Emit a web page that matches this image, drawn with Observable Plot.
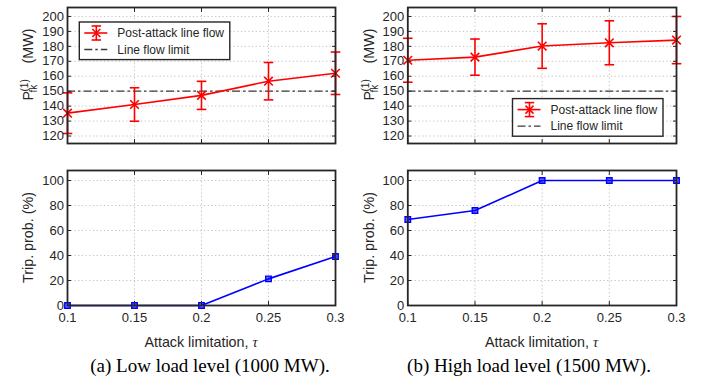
<!DOCTYPE html>
<html><head><meta charset="utf-8">
<script src="https://cdn.jsdelivr.net/npm/d3@7"></script>
<script src="https://cdn.jsdelivr.net/npm/@observablehq/plot@0.6"></script>
<style>
html,body{margin:0;padding:0;background:#fff;}
#root{position:relative;width:708px;height:383px;overflow:hidden;background:#fff;}
#root > svg{position:absolute;}
</style></head><body><div id="root"></div>
<script>
// ---- data ----
const tau = [0.1, 0.15, 0.2, 0.25, 0.3];
const tauLabels = ["0.1", "0.15", "0.2", "0.25", "0.3"];
const flowTicks = [120, 130, 140, 150, 160, 170, 180, 190, 200];
const tripTicks = [0, 20, 40, 60, 80, 100];
const lineFlowLimit = 150;
const lowFlow = [135.3, 141.1, 147.2, 156.7, 162.0];
const lowErr = [13.6, 11.2, 9.4, 12.5, 14.2];
const highFlow = [170.7, 172.8, 180.2, 182.4, 184.2];
const highErr = [14.7, 12.1, 14.9, 14.7, 15.8];
const lowTrip = [0, 0, 0, 21.3, 39.2];
const highTrip = [68.8, 76.0, 100, 100, 100];
const seriesNames = ["Post-attack line flow", "Line flow limit"];
const yLabelTrip = "Trip. prob. (%)";
const xLabel = "Attack limitation, ";
const captions = ["(a) Low load level (1000 MW).", "(b) High load level (1500 MW)."];

// ---- style ----
const FONT = "'Liberation Sans', Arial, Helvetica, sans-serif";
const AX = "#262626", GRID = "#c4c4c4", RED = "#ff0000", BLUE = "#0000ff", LIMIT = "#3a3a3a";

const cap = {draw(ctx, size) { const r = Math.sqrt(size / Math.PI); ctx.moveTo(-r, 0); ctx.lineTo(r, 0); }};
const cross = {draw(ctx, size) { const r = Math.sqrt(size / Math.PI); ctx.moveTo(-r, -r); ctx.lineTo(r, r); ctx.moveTo(-r, r); ctx.lineTo(r, -r); }};

const root = document.getElementById("root");

function panel({left, top, width, height, ml, mr, mt, mb, yDomain, yTicks, xLabels, marks}) {
  const el = Plot.plot({
    width, height, marginLeft: ml, marginRight: mr, marginTop: mt, marginBottom: mb,
    style: {fontFamily: FONT, fontSize: "13px", color: AX, background: "transparent", overflow: "visible"},
    x: {domain: [0.1, 0.3]},
    y: {domain: yDomain},
    marks: [
      Plot.gridX(tau, {stroke: GRID, strokeOpacity: 1, strokeDasharray: "1.3,2.4", strokeWidth: 1}),
      Plot.gridY(yTicks, {stroke: GRID, strokeOpacity: 1, strokeDasharray: "1.3,2.4", strokeWidth: 1}),
      ...marks,
      Plot.axisX(tau, {anchor: "bottom", tickSize: -4, tickPadding: 11.5, strokeWidth: 1,
        tickFormat: xLabels ? (d => tauLabels[tau.indexOf(d)]) : (() => ""), label: null, fontSize: 13}),
      Plot.axisX(tau, {anchor: "top", tickSize: -4, strokeWidth: 1, tickFormat: () => "", label: null}),
      Plot.axisY(yTicks, {anchor: "left", tickSize: -4, tickPadding: 7.5, strokeWidth: 1,
        tickFormat: d => String(d), label: null, fontSize: 13}),
      Plot.axisY(yTicks, {anchor: "right", tickSize: -4, strokeWidth: 1, tickFormat: () => "", label: null}),
      Plot.frame({stroke: AX, strokeWidth: 1.8})
    ]
  });
  el.style.left = left + "px";
  el.style.top = top + "px";
  root.appendChild(el);
}

function flowMarks(vals, errs) {
  const rows = tau.map((t, i) => ({t, v: vals[i], lo: vals[i] - errs[i], hi: vals[i] + errs[i]}));
  return [
    Plot.ruleY([lineFlowLimit], {stroke: LIMIT, strokeWidth: 1.3, strokeDasharray: "8,3,2.5,3"}),
    Plot.line(rows, {x: "t", y: "v", stroke: RED, strokeWidth: 1.6}),
    Plot.ruleX(rows, {x: "t", y1: "lo", y2: "hi", stroke: RED, strokeWidth: 1.6}),
    Plot.dot(rows, {x: "t", y: "lo", symbol: cap, r: 4.8, stroke: RED, fill: "none", strokeWidth: 1.6}),
    Plot.dot(rows, {x: "t", y: "hi", symbol: cap, r: 4.8, stroke: RED, fill: "none", strokeWidth: 1.6}),
    Plot.dot(rows, {x: "t", y: "v", symbol: cross, r: 4.3, stroke: RED, fill: "none", strokeWidth: 1.6})
  ];
}
function tripMarks(vals) {
  const rows = tau.map((t, i) => ({t, v: vals[i]}));
  return [
    Plot.line(rows, {x: "t", y: "v", stroke: BLUE, strokeWidth: 1.6}),
    Plot.dot(rows, {x: "t", y: "v", symbol: "square", r: 3.1, stroke: BLUE, fill: BLUE, fillOpacity: 0.55, strokeWidth: 1.4})
  ];
}

const flowDom = [115, 206], tripDom = [0, 108];
panel({left: 0, top: 0, width: 354, height: 160, ml: 67, mr: 19, mt: 7, mb: 17, yDomain: flowDom, yTicks: flowTicks, xLabels: false, marks: flowMarks(lowFlow, lowErr)});
panel({left: 354, top: 0, width: 354, height: 160, ml: 53.3, mr: 32, mt: 7, mb: 17, yDomain: flowDom, yTicks: flowTicks, xLabels: false, marks: flowMarks(highFlow, highErr)});
panel({left: 0, top: 160, width: 354, height: 190, ml: 67, mr: 19, mt: 10, mb: 45, yDomain: tripDom, yTicks: tripTicks, xLabels: true, marks: tripMarks(lowTrip)});
panel({left: 354, top: 160, width: 354, height: 190, ml: 53.3, mr: 32, mt: 10, mb: 45, yDomain: tripDom, yTicks: tripTicks, xLabels: true, marks: tripMarks(highTrip)});

// ---- overlay: labels, legends, captions ----
const ov = d3.select(root).append("svg").attr("width", 708).attr("height", 383)
  .style("left", "0px").style("top", "0px").style("font-family", FONT).style("fill", AX);

function yLabels(bx) {
  const g = ov.append("g").attr("transform", `translate(${bx},0) rotate(-90)`);
  g.append("text").attr("x", -100.5).attr("y", 0).attr("font-size", 14.3).text("P");
  g.append("text").attr("x", -91.5).attr("y", -5.2).attr("font-size", 10).text("(1)");
  g.append("text").attr("x", -92.5).attr("y", 3.6).attr("font-size", 10).text("fk");
  g.append("text").attr("x", -63.5).attr("y", 0).attr("font-size", 14.3).text("(MW)");
  g.append("text").attr("x", -237.5).attr("y", 0).attr("font-size", 14.3).attr("text-anchor", "middle").text(yLabelTrip);
}
yLabels(33.3);
yLabels(374);

function xLab(cx) {
  const t = ov.append("text").attr("x", cx).attr("y", 346.7).attr("font-size", 14.3).attr("text-anchor", "middle");
  t.append("tspan").text(xLabel);
  t.append("tspan").attr("font-style", "italic").attr("font-family", "'Liberation Serif', serif").text("τ");
}
xLab(201);
xLab(541.5);

function legend(x, y) {
  const g = ov.append("g").attr("transform", `translate(${x},${y})`);
  g.append("rect").attr("x", 0).attr("y", 0).attr("width", 150.5).attr("height", 37.6)
    .attr("fill", "white").attr("stroke", AX).attr("stroke-width", 1.4);
  const r1 = 11, r2 = 27.5;
  const lg = g.append("g").attr("stroke", RED).attr("stroke-width", 1.6).attr("fill", "none");
  lg.append("line").attr("x1", 5).attr("x2", 28).attr("y1", r1).attr("y2", r1);
  lg.append("line").attr("x1", 17).attr("x2", 17).attr("y1", r1 - 7).attr("y2", r1 + 7);
  lg.append("line").attr("x1", 12.3).attr("x2", 21.7).attr("y1", r1 - 7).attr("y2", r1 - 7);
  lg.append("line").attr("x1", 12.3).attr("x2", 21.7).attr("y1", r1 + 7).attr("y2", r1 + 7);
  lg.append("path").attr("d", `M13,${r1 - 4}L21,${r1 + 4}M13,${r1 + 4}L21,${r1 - 4}`);
  g.append("line").attr("x1", 5).attr("x2", 28).attr("y1", r2).attr("y2", r2)
    .attr("stroke", LIMIT).attr("stroke-width", 1.3).attr("stroke-dasharray", "8,3,2.5,3");
  g.append("text").attr("x", 38).attr("y", r1 + 4.2).attr("font-size", 12).text(seriesNames[0]);
  g.append("text").attr("x", 38).attr("y", r2 + 4.2).attr("font-size", 12).text(seriesNames[1]);
}
legend(79.3, 22);
legend(512.5, 98.6);

ov.append("text").attr("x", 210).attr("y", 372).attr("font-size", 19).attr("text-anchor", "middle")
  .attr("font-family", "'Liberation Serif', 'Times New Roman', serif").style("fill", "#000").text(captions[0]);
ov.append("text").attr("x", 529).attr("y", 372).attr("font-size", 19).attr("text-anchor", "middle")
  .attr("font-family", "'Liberation Serif', 'Times New Roman', serif").style("fill", "#000").text(captions[1]);
</script>
</body></html>
